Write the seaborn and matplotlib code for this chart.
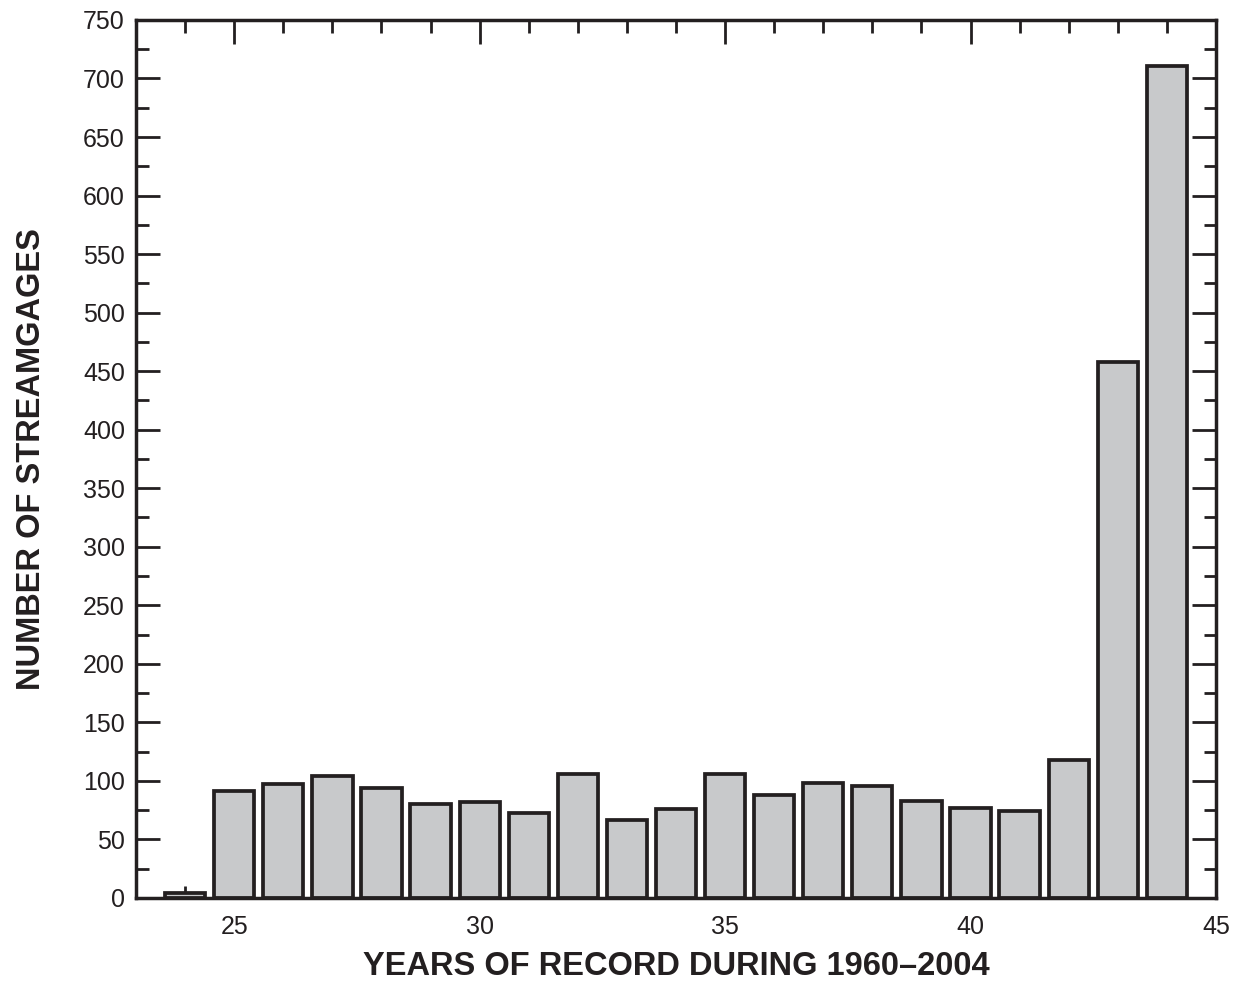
import matplotlib
matplotlib.use("Agg")
import matplotlib.pyplot as plt
import seaborn as sns
import pandas as pd
from matplotlib.ticker import MultipleLocator

years = [24, 25, 26, 27, 28, 29, 30, 31, 32, 33, 34, 35, 36, 37, 38, 39, 40, 41, 42, 43, 44]
counts = [4, 91, 97, 104, 94, 80, 82, 73, 106, 67, 76, 106, 88, 98, 96, 83, 77, 74, 118, 458, 711]
x_label = "YEARS OF RECORD DURING 1960\u20132004"
y_label = "NUMBER OF STREAMGAGES"

sns.set_theme(style="ticks")
plt.rcParams['font.family'] = ['Liberation Sans', 'DejaVu Sans']

df = pd.DataFrame({"years": years, "counts": counts})

fig = plt.figure(figsize=(12.4, 9.83), dpi=100)
ax = fig.add_axes([0.1097, 0.0865, 0.8709, 0.8932])

sns.barplot(data=df, x="years", y="counts", native_scale=True, width=0.82,
            color="#c8c9cb", saturation=1, edgecolor="#231f20", linewidth=2.7, ax=ax)

ax.set_xlim(23, 45)
ax.set_ylim(0, 750)
ax.xaxis.set_major_locator(MultipleLocator(5))
ax.xaxis.set_minor_locator(MultipleLocator(1))
ax.yaxis.set_major_locator(MultipleLocator(50))
ax.yaxis.set_minor_locator(MultipleLocator(25))

ax.tick_params(which="both", direction="in", top=True, right=True,
               color="#231f20", width=2)
ax.tick_params(which="major", length=17, labelsize=18, pad=12, labelcolor="#231f20")
ax.tick_params(which="minor", length=9)
ax.tick_params(axis="y", which="major", pad=8)

for s in ax.spines.values():
    s.set_linewidth(2.5)
    s.set_color("#231f20")

ax.set_xlabel(x_label, fontsize=23.5, fontweight="bold", color="#231f20", labelpad=9)
ax.set_ylabel(y_label, fontsize=23.5, fontweight="bold", color="#231f20", labelpad=26)

fig.savefig("out.png", dpi=100)
